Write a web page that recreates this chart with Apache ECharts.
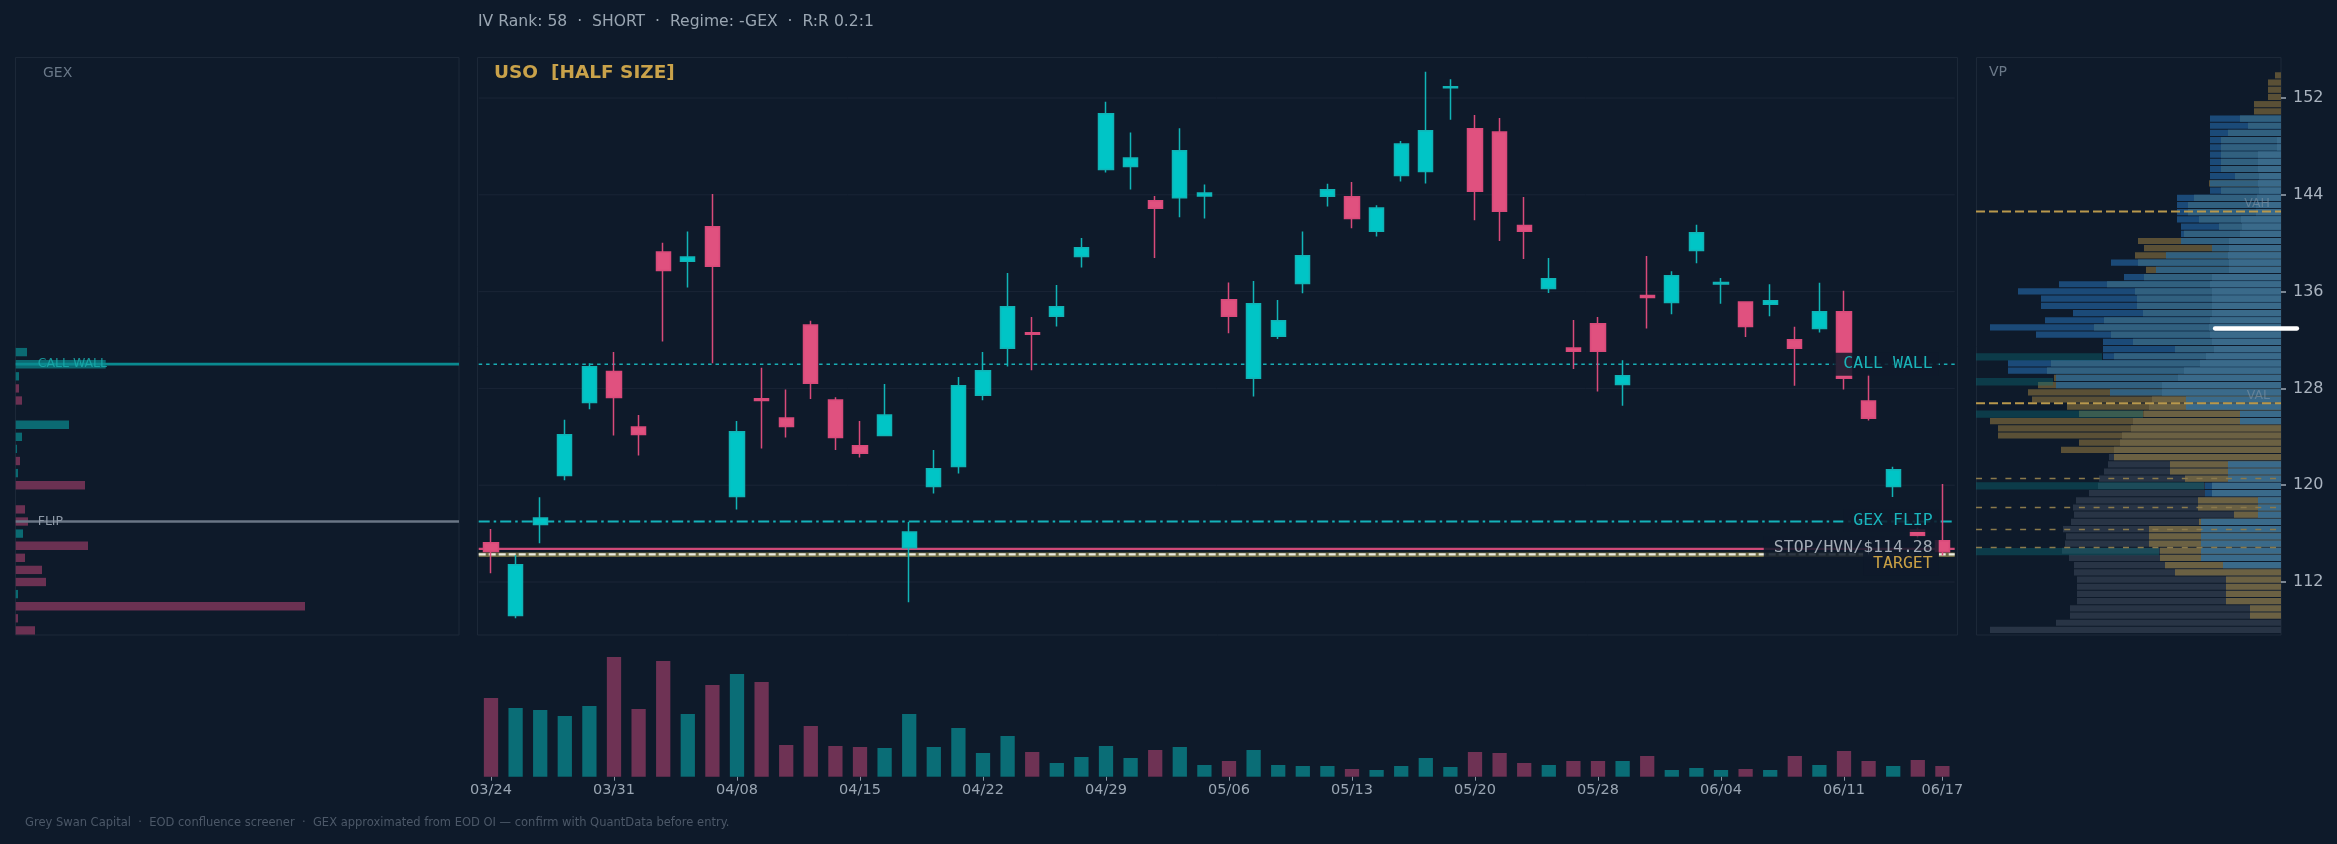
<!DOCTYPE html>
<html>
<head>
<meta charset="utf-8">
<title>USO confluence</title>
<script src="https://cdn.jsdelivr.net/npm/echarts@6/dist/echarts.min.js"></script>
<style>
  html, body { margin: 0; padding: 0; background: #0e1a2a; }
  #chart { width: 2337px; height: 844px; }
</style>
</head>
<body>
<div id="chart"></div>
<script>
// ---- data ----
const dates = ['03/24','03/25','03/26','03/27','03/30','03/31','04/01','04/02','04/06','04/07',
  '04/08','04/09','04/10','04/13','04/14','04/15','04/16','04/17','04/20','04/21',
  '04/22','04/23','04/24','04/27','04/28','04/29','04/30','05/01','05/04','05/05',
  '05/06','05/07','05/08','05/11','05/12','05/13','05/14','05/15','05/18','05/19',
  '05/20','05/21','05/22','05/26','05/27','05/28','05/29','06/01','06/02','06/03',
  '06/04','06/05','06/08','06/09','06/10','06/11','06/12','06/15','06/16','06/17'];

const opens = [115.24,109.23,116.76,120.80,126.84,129.39,124.82,139.28,138.50,141.36,
  119.06,127.15,125.56,133.24,127.05,123.26,124.10,114.83,119.90,121.55,
  127.43,131.32,132.59,133.96,138.90,146.09,146.34,143.51,143.76,143.91,
  135.33,128.83,132.31,136.67,143.88,143.85,140.99,145.59,145.93,152.84,
  149.45,149.20,141.46,136.26,131.35,133.34,128.33,135.67,135.11,139.40,
  136.63,135.14,134.95,132.03,132.96,134.33,126.96,119.90,116.30,115.40];
const closes = [114.52,113.43,117.29,124.16,129.79,127.24,124.19,137.75,138.87,138.10,
  124.41,127.00,124.85,128.42,123.94,122.64,125.81,116.14,121.36,128.21,
  129.45,134.74,132.47,134.74,139.62,150.69,147.05,142.89,147.65,144.16,
  133.96,134.99,133.59,138.97,144.41,142.05,142.92,148.21,149.29,152.93,
  144.29,142.64,140.99,137.07,131.07,131.07,129.05,135.51,137.32,140.86,
  136.76,133.12,135.24,131.32,134.33,128.83,125.53,121.27,115.85,114.50];
const lows = [112.72,109.01,115.20,120.40,126.28,124.10,122.45,131.88,136.35,130.07,
  118.00,123.04,123.94,127.12,122.92,122.30,124.04,110.32,119.31,120.96,
  127.02,129.82,129.51,133.12,138.00,145.84,144.44,138.78,142.14,142.05,
  132.56,127.33,132.09,135.86,143.04,141.24,140.55,145.10,144.94,150.20,
  141.89,140.18,138.69,135.89,129.61,127.74,126.56,132.96,134.12,138.35,
  134.99,132.25,133.96,128.21,132.62,127.90,125.34,119.03,115.60,114.20];
const highs = [116.39,114.21,119.00,125.41,130.07,131.00,125.81,140.03,140.96,144.07,
  125.31,129.70,127.90,133.59,127.27,125.31,128.36,116.95,122.92,128.95,
  131.00,137.54,133.90,136.54,140.43,151.69,149.14,143.91,149.51,144.85,
  136.76,136.88,135.30,140.96,144.91,145.06,143.14,148.45,154.18,153.56,
  150.60,150.35,143.82,138.78,133.65,133.90,130.32,138.94,137.69,141.52,
  137.13,135.20,136.60,133.09,136.73,136.07,129.14,121.52,116.50,120.10];
// volume, millions of shares
const volumes = [7.87,6.87,6.67,6.07,7.07,11.97,6.77,11.57,6.27,9.17,
  10.27,9.47,3.17,5.07,3.07,2.97,2.87,6.27,2.97,4.87,
  2.37,4.07,2.47,1.37,1.97,3.07,1.87,2.67,2.97,1.17,
  1.57,2.67,1.17,1.07,1.07,0.77,0.67,1.07,1.87,0.97,
  2.47,2.37,1.37,1.17,1.57,1.57,1.57,2.07,0.67,0.87,
  0.67,0.77,0.67,2.07,1.17,2.57,1.57,1.07,1.67,1.07];

// gamma exposure by strike (positive = call side)
const gexStrikes = [131,130,129,128,127,126,125,124,123,122,121,120,
  119,118,117,116,115,114,113,112,111,110,109,108];
const gexValues = [1.13,9.0,0.33,-0.33,-0.63,0,5.33,0.63,0.13,-0.43,0.23,-6.93,
  0,-0.93,-1.23,0.73,-7.23,-0.93,-2.63,-3.03,0.23,-28.93,-0.23,-1.93];

// volume profile: 78 price bins from the top, three overlaid layers
const vpTop = 154.13;
const vpStep = 0.5953;
const vpOuter = [6,13,13,13,27,27,71,71,71,71, 71,71,71,71,71,72,71,104,104,104,
  104,100,100,143,137,146,170,135,157,222, 263,240,240,208,236,291,245,178,178,178,
  273,273,227,243,253,249,214,202,291,283, 283,202,220,172,173,177,182,183,192,205,
  208,207,210,218,215,216,219,212,207,207, 204,204,204,204,211,211,225,291];
const vpOuterKind = 'gggggg' + 'bbbbbbbbb' + 'g' + 'bbbbbbb' + 'ggg' + 'b' + 'g' +
  'bbbbbbbbbbbbbb' + 'ggggggggggg' + 'ddddddddddddddddddddddddd';
const vpMid = [0,0,0,0,0,0,41,33,53,60, 60,60,60,60,46,71,60,87,93,93,
  82,62,97,100,69,115,143,125,137,174, 146,144,144,138,177,187,170,148,106,167,
  230,234,225,225,171,129,132,137,148,150, 159,161,167,167,111,111,96,76,76,83,
  83,47,82,132,132,132,121,121,116,106, 55,55,55,55,31,31,0,0];
const vpMidKind = 'xxxxxx' + 'sssssssssssssssssssssssssssssssssssssss' + 'yyyyyyyyyyyy' +
  'bb' + 'yyyyyyyyyyyyyyyyy' + 'xx';
const vpInner = [0,0,0,0,0,0,0,0,0,4, 4,23,23,23,22,23,22,24,25,25,
  40,39,41,52,52,53,52,52,69,71, 69,69,69,69,71,72,71,69,67,75,
  81,97,103,119,119,95,95,41,41,0, 0,0,0,0,53,53,53,69,69,23,
  23,23,80,80,80,80,80,80,58,0, 0,0,0,0,0,0,0,0];
const vpBandPrice = [130.6, 128.55, 125.88, 119.94, 114.52];
const vpBandLen = [126, 77, 167, 228, 183];

// levels
const callWall = 130.0;
const gexFlip = 117.0;
const stopLevel = 114.74;
const hvnLevel = 114.28;
const targetLevel = 114.26;
const vah = 142.63;
const val = 126.77;
const poc = 132.95;
const vpMinorLevels = [120.55, 118.15, 116.34, 114.85];

const priceTicks = [112, 120, 128, 136, 144, 152];
const yMin = 107.62, yMax = 155.39;

const ticker = 'USO';
const sizing = 'HALF SIZE';
const ivRank = 58, side = 'SHORT', regime = '-GEX', rr = '0.2:1';

// ---- styling ----
const FONT = '"DejaVu Sans", sans-serif';
const MONO = '"DejaVu Sans Mono", monospace';
const FRAME = '#1c2838';
const UP = '#00c5c6', DOWN = '#e0517f';
const VOL_UP = '#0a6d76', VOL_DOWN = '#6e3254';
const GEX_POS = '#0b6a72', GEX_NEG = '#6b3152';
const vpColors = { g: '#5a5036', y: '#6b6143', b: '#1b4a78', s: '#31607f', l: '#3a6a8a', d: '#283445' };

const ohlc = opens.map((o, i) => [o, closes[i], lows[i], highs[i]]);
const tickShown = (i) => i % 5 === 0 || i === dates.length - 1;

function textStyle(text, font, fill, align, extra) {
  return Object.assign({
    text: text, font: font, fill: fill,
    align: align, textAlign: align, verticalAlign: 'middle', textVerticalAlign: 'middle'
  }, extra || {});
}

// horizontal level lines drawn across a grid
function hlines(xi, yi, prices, styles, z) {
  return {
    type: 'custom', xAxisIndex: xi, yAxisIndex: yi, z: z, silent: true, clip: false,
    data: prices.map(p => [0, p]),
    renderItem: function (params, api) {
      const cs = params.coordSys;
      const y = api.coord([0, api.value(1)])[1];
      return { type: 'line', shape: { x1: cs.x, y1: y, x2: cs.x + cs.width, y2: y },
        style: styles[params.dataIndex] };
    }
  };
}

const mainLabels = [
  { text: 'CALL WALL', price: callWall, dy: 0, color: '#1ab4b8' },
  { text: 'GEX FLIP', price: gexFlip, dy: -1, color: '#1ab4bc' },
  { text: 'STOP/HVN/$' + hvnLevel.toFixed(2), price: stopLevel, dy: -1, color: '#a3abb5' },
  { text: 'TARGET', price: targetLevel, dy: 9, color: '#c9a045' }
];

const option = {
  backgroundColor: '#0e1a2a',
  animation: false,
  textStyle: { fontFamily: FONT },
  grid: [
    { left: 478.7, top: 57, width: 1476, height: 578, containLabel: false, outerBoundsMode: 'none' },
    { left: 478.7, top: 648, width: 1476, height: 128.7, containLabel: false, outerBoundsMode: 'none' },
    { left: 15.7, top: 57, width: 443.3, height: 578, containLabel: false, outerBoundsMode: 'none' },
    { left: 1976, top: 57, width: 305, height: 578, containLabel: false, outerBoundsMode: 'none' }
  ],
  xAxis: [
    { type: 'category', gridIndex: 0, data: dates, boundaryGap: true, show: false },
    { type: 'category', gridIndex: 1, data: dates, boundaryGap: true,
      axisLine: { show: false },
      axisTick: { show: true, alignWithLabel: true, interval: tickShown, length: 4,
        lineStyle: { color: '#8a96a3', width: 1 } },
      axisLabel: { interval: tickShown, color: '#9aa6b3', fontSize: 14.5, margin: 6, fontFamily: FONT },
      splitLine: { show: false } },
    { type: 'value', gridIndex: 2, min: 0, max: 44.33, show: false },
    { type: 'value', gridIndex: 3, min: 0, max: 305, inverse: true, show: false },
    { type: 'value', gridIndex: 3, min: 0, max: 305, show: false }
  ],
  yAxis: [
    { type: 'value', gridIndex: 0, min: yMin, max: yMax, show: false },
    { type: 'value', gridIndex: 1, min: 0, max: 12.87, show: false },
    { type: 'value', gridIndex: 2, min: yMin, max: yMax, show: false },
    { type: 'value', gridIndex: 3, min: yMin, max: yMax, position: 'right',
      axisLine: { show: false },
      axisTick: { show: true, customValues: priceTicks, length: 5,
        lineStyle: { color: '#a0aab6', width: 1.5 } },
      axisLabel: { customValues: priceTicks, color: '#a9b3bf', fontSize: 16, margin: 12, fontFamily: FONT },
      splitLine: { show: false } }
  ],
  series: [
    // price gridlines
    hlines(0, 0, priceTicks, priceTicks.map(() => ({ stroke: '#1a2536', lineWidth: 1 })), 0),
    // trade levels
    hlines(0, 0, [callWall, gexFlip, targetLevel, stopLevel, hvnLevel], [
      { stroke: '#19aeb5', lineWidth: 1.6, lineDash: [3.5, 3.9] },
      { stroke: '#14b2ba', lineWidth: 2, lineDash: [11, 4, 2.5, 4] },
      { stroke: '#6f6c45', lineWidth: 4.5 },
      { stroke: '#cf4a78', lineWidth: 2.4 },
      { stroke: '#ecebe2', lineWidth: 2.2, lineDash: [7, 3] }
    ], 1),
    {
      type: 'candlestick', xAxisIndex: 0, yAxisIndex: 0, z: 2,
      data: ohlc, barWidth: '60%',
      itemStyle: { color: UP, color0: DOWN, borderColor: '#10b4b6', borderColor0: '#d84a7a', borderWidth: 1.5 }
    },
    {
      type: 'custom', xAxisIndex: 0, yAxisIndex: 0, z: 10, silent: true, clip: false,
      data: mainLabels.map(l => [0, l.price]),
      renderItem: function (params, api) {
        const l = mainLabels[params.dataIndex];
        const cs = params.coordSys;
        const y = api.coord([0, api.value(1)])[1] + l.dy;
        return { type: 'text', x: cs.x + cs.width - 16, y: y,
          style: textStyle(l.text, '16.5px ' + MONO, l.color, 'right',
            { backgroundColor: 'rgba(14,26,42,0.86)', padding: [3, 6, 3, 10] }) };
      }
    },
    {
      type: 'bar', xAxisIndex: 1, yAxisIndex: 1, barWidth: '58%',
      data: volumes.map((v, i) => ({ value: v, itemStyle: { color: closes[i] >= opens[i] ? VOL_UP : VOL_DOWN } }))
    },
    // GEX by strike
    {
      type: 'custom', xAxisIndex: 2, yAxisIndex: 2, z: 2, silent: true,
      data: gexStrikes.map((s, i) => [Math.abs(gexValues[i]), s, gexValues[i]]),
      renderItem: function (params, api) {
        const p0 = api.coord([0, api.value(1)]);
        const p1 = api.coord([api.value(0), api.value(1)]);
        const h = api.size([0, 0.69])[1];
        return { type: 'rect', shape: { x: p0[0], y: p0[1] - h / 2, width: p1[0] - p0[0], height: h },
          style: { fill: api.value(2) >= 0 ? GEX_POS : GEX_NEG } };
      }
    },
    hlines(2, 2, [callWall, gexFlip], [
      { stroke: '#0a8a90', lineWidth: 2.7 },
      { stroke: '#6a7686', lineWidth: 2.7 }
    ], 3),
    {
      type: 'custom', xAxisIndex: 2, yAxisIndex: 2, z: 4, silent: true,
      data: [[0, callWall], [0, gexFlip]],
      renderItem: function (params, api) {
        const names = ['CALL WALL', 'FLIP'];
        const colors = ['rgba(26,172,172,0.85)', '#8d98a6'];
        const cs = params.coordSys;
        const y = api.coord([0, api.value(1)])[1];
        return { type: 'text', x: cs.x + 22, y: y,
          style: textStyle(names[params.dataIndex], '12.5px ' + FONT, colors[params.dataIndex], 'left') };
      }
    },
    // volume profile
    {
      type: 'custom', xAxisIndex: 3, yAxisIndex: 3, z: 2, silent: true,
      data: vpOuter.map((v, i) => [vpTop - i * vpStep, vpTop - (i + 1) * vpStep, v, vpMid[i], vpInner[i]]),
      renderItem: function (params, api) {
        const i = params.dataIndex;
        const top = api.coord([0, api.value(0)]);
        const bot = api.coord([0, api.value(1)]);
        const h = bot[1] - top[1] - 1;
        const layers = [[2, vpOuterKind[i]], [3, vpMidKind[i]], [4, 'l']];
        const kids = [];
        layers.forEach(function (ly) {
          const len = api.value(ly[0]);
          if (!len || isNaN(len) || !vpColors[ly[1]]) return;
          const x1 = api.coord([len, api.value(0)])[0];
          kids.push({ type: 'rect', shape: { x: x1, y: top[1], width: top[0] - x1, height: h },
            style: { fill: vpColors[ly[1]] } });
        });
        return { type: 'group', children: kids };
      }
    },
    {
      type: 'custom', xAxisIndex: 4, yAxisIndex: 3, z: 3, silent: true,
      data: vpBandPrice.map((p, i) => [vpBandLen[i], p]),
      renderItem: function (params, api) {
        const a = api.coord([0, api.value(1) + 0.3]);
        const b = api.coord([api.value(0), api.value(1) - 0.3]);
        return { type: 'rect', shape: { x: a[0], y: a[1], width: b[0] - a[0], height: b[1] - a[1] },
          style: { fill: 'rgba(10,110,120,0.4)' } };
      }
    },
    hlines(3, 3, vpMinorLevels, vpMinorLevels.map(() => ({ stroke: '#8a7a4c', lineWidth: 1.5, lineDash: [6, 8.7] })), 4),
    hlines(3, 3, [vah, val], [
      { stroke: '#b8984c', lineWidth: 2, lineDash: [9, 4] },
      { stroke: '#b8984c', lineWidth: 2, lineDash: [9, 4] }
    ], 4),
    {
      type: 'custom', xAxisIndex: 3, yAxisIndex: 3, z: 5, silent: true, clip: false,
      data: [[0, vah], [0, val]],
      renderItem: function (params, api) {
        const cs = params.coordSys;
        const y = api.coord([0, api.value(1)])[1] - 7.5;
        return { type: 'text', x: cs.x + cs.width - 11, y: y,
          style: textStyle(['VAH', 'VAL'][params.dataIndex], '12.5px ' + FONT, 'rgba(140,156,172,0.5)', 'right') };
      }
    },
    {
      type: 'custom', xAxisIndex: 3, yAxisIndex: 3, z: 6, silent: true, clip: false,
      data: [[0, poc]],
      renderItem: function (params, api) {
        const a = api.coord([66, api.value(1)]);
        const b = api.coord([-16, api.value(1)]);
        return { type: 'line', shape: { x1: a[0], y1: a[1], x2: b[0], y2: b[1] },
          style: { stroke: '#ffffff', lineWidth: 4.3, lineCap: 'round' } };
      }
    }
  ],
  graphic: [
    { type: 'rect', silent: true, shape: { x: 15.5, y: 57.5, width: 443.5, height: 577.5 },
      style: { fill: 'none', stroke: FRAME, lineWidth: 1 } },
    { type: 'rect', silent: true, shape: { x: 477.5, y: 57.5, width: 1480, height: 577.5 },
      style: { fill: 'none', stroke: FRAME, lineWidth: 1 } },
    { type: 'rect', silent: true, shape: { x: 1976.5, y: 57.5, width: 304.5, height: 577.5 },
      style: { fill: 'none', stroke: FRAME, lineWidth: 1 } },
    { type: 'text', silent: true, x: 478, y: 22,
      style: textStyle('IV Rank: ' + ivRank + '  \u00b7  ' + side + '  \u00b7  Regime: ' + regime + '  \u00b7  R:R ' + rr,
        '15.6px ' + FONT, '#9aa6b2', 'left') },
    { type: 'text', silent: true, x: 494, y: 73,
      style: textStyle(ticker + '  [' + sizing + ']', 'bold 18.5px ' + FONT, '#c9a24a', 'left') },
    { type: 'text', silent: true, x: 43, y: 73, style: textStyle('GEX', '14px ' + FONT, '#6a7888', 'left') },
    { type: 'text', silent: true, x: 1989, y: 72, style: textStyle('VP', '14px ' + FONT, '#6a7888', 'left') },
    { type: 'text', silent: true, x: 25, y: 823,
      style: textStyle('Grey Swan Capital  \u00b7  EOD confluence screener  \u00b7  GEX approximated from EOD OI \u2014 confirm with QuantData before entry.',
        '11.5px ' + FONT, '#4c5868', 'left') }
  ]
};

const chart = echarts.init(document.getElementById('chart'));
chart.setOption(option);
</script>
</body>
</html>
